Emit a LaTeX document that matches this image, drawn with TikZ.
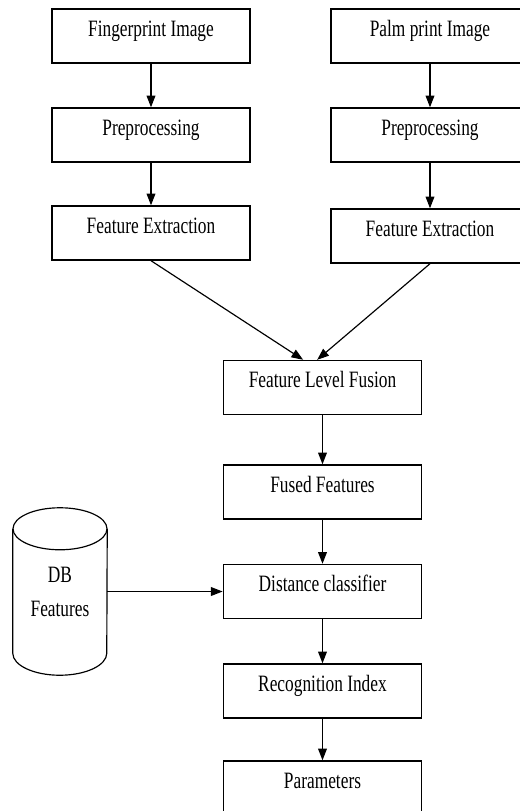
\documentclass[tikz,border=0pt]{standalone}
\usepackage{fontspec}
\setmainfont{Liberation Serif}[FakeStretch=0.74]
\usepackage{tikz}
\usetikzlibrary{shapes.geometric,arrows.meta,positioning,calc}

\begin{document}
\begin{tikzpicture}[
  font=\fontsize{20pt}{29pt}\selectfont,
  block/.style={draw,line width=1.2pt,minimum width=5.95cm,minimum height=1.62cm,text height=0.25cm,text depth=0.25cm,align=center},
  store/.style={minimum width=2.82cm,minimum height=5.01cm,inner sep=0pt,align=center},
  arr/.style={-{Triangle[length=10pt,width=7.5pt]},line width=1pt},
]
\useasboundingbox (0,0) rectangle (15.6,-24.33);

% two input branches
\node[block] (finger) at (4.53,-1.08) {Fingerprint Image};
\node[block] (prepL) at (4.53,-4.05) {Preprocessing};
\node[block] (featL) at (4.53,-6.99) {Feature Extraction};

\node[block] (palm) at (12.9,-1.08) {Palm print Image};
\node[block] (prepR) at (12.9,-4.05) {Preprocessing};
\node[block] (featR) at (12.9,-7.08) {Feature Extraction};

% fusion and matching
\node[block] (fusion) at (9.675,-11.625) {Feature Level Fusion};
\node[block] (fused) at (9.675,-14.76) {Fused Features};
\node[block] (dist) at (9.675,-17.745) {Distance classifier};
\node[block] (recog) at (9.675,-20.73) {Recognition Index};
\node[block] (params) at (9.675,-23.64) {Parameters};

% database (cylinder drawn round the text node)
\node[store] (db) at (1.8,-17.745) {DB\\Features};
\draw[line width=1pt] ([yshift=-0.63cm]db.north) ellipse (1.41cm and 0.63cm);
\draw[line width=1pt] ([yshift=-0.63cm]db.north west) -- ([yshift=0.66cm]db.south west)
  arc (180:360:1.41cm and 0.66cm) -- ([yshift=-0.63cm]db.north east);

% edges
\draw[arr] (finger) -- (prepL);
\draw[arr] (prepL) -- (featL);
\draw[arr] (palm) -- (prepR);
\draw[arr] (prepR) -- (featR);

\draw[arr] (featL.south) -- ($(fusion.north)+(-0.58,0)$);
\draw[arr] (featR.south) -- ($(fusion.north)+(-0.16,0)$);

\draw[arr] (fusion) -- (fused);
\draw[arr] (fused) -- (dist);
\draw[arr] (dist) -- (recog);
\draw[arr] (recog) -- (params);

\draw[arr] (db.east) -- (dist.west);

\end{tikzpicture}
\end{document}
